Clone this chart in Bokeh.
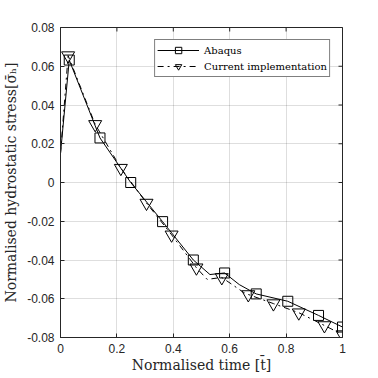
import math
from bokeh.plotting import figure
from bokeh.models import Range1d, FixedTicker, Legend, LegendItem
from bokeh.embed import file_html
from bokeh.resources import INLINE

# Abaqus: smooth line samples and marker positions
abaqus_line_t = [0.0, 0.031, 0.14, 0.249, 0.362, 0.471, 0.53, 0.582, 0.634, 0.694, 0.806, 0.915, 1.0]
abaqus_line_s = [0.015, 0.0632, 0.023, 0.0, -0.0202, -0.0400, -0.0475, -0.0467, -0.0527, -0.0575, -0.0613, -0.0686, -0.0746]
abaqus_mark_t = [0.031, 0.14, 0.249, 0.362, 0.471, 0.582, 0.694, 0.806, 0.915, 1.0]
abaqus_mark_s = [0.0632, 0.023, 0.0, -0.0202, -0.0400, -0.0467, -0.0575, -0.0613, -0.0686, -0.0746]

# Current implementation
current_line_t = [0.0, 0.027, 0.123, 0.214, 0.305, 0.394, 0.482, 0.52, 0.572, 0.65, 0.666, 0.755, 0.845, 0.936, 1.0]
current_line_s = [0.015, 0.0655, 0.030, 0.0074, -0.0106, -0.027, -0.044, -0.050, -0.0490, -0.0568, -0.0578, -0.0625, -0.0672, -0.0738, -0.0785]
current_mark_t = [0.027, 0.123, 0.214, 0.305, 0.394, 0.482, 0.572, 0.666, 0.755, 0.845, 0.936, 1.0]
current_mark_s = [0.0655, 0.030, 0.0074, -0.0106, -0.027, -0.044, -0.0490, -0.0578, -0.0625, -0.0672, -0.0738, -0.0785]

x_ticks = [0, 0.2, 0.4, 0.6, 0.8, 1.0]
x_tick_labels = ["0", "0.2", "0.4", "0.6", "0.8", "1"]
y_ticks = [-0.08, -0.06, -0.04, -0.02, 0, 0.02, 0.04, 0.06, 0.08]
y_tick_labels = ["-0.08", "-0.06", "-0.04", "-0.02", "0", "0.02", "0.04", "0.06", "0.08"]

AX = "#262626"

p = figure(width=378, height=378, output_backend="svg", toolbar_location=None,
           x_range=Range1d(0, 1), y_range=Range1d(-0.08, 0.08),
           min_border_left=58, min_border_right=36, min_border_top=27, min_border_bottom=41)
p.background_fill_color = "white"
p.border_fill_color = "white"
p.outline_line_color = AX
p.outline_line_width = 1

for ax in [p.xaxis[0], p.yaxis[0]]:
    ax.axis_line_color = AX
    ax.major_tick_in = 4
    ax.major_tick_out = 0
    ax.minor_tick_line_color = None
    ax.major_tick_line_color = AX
    ax.major_label_text_font = "Liberation Sans"
    ax.major_label_text_font_size = "12px"
    ax.major_label_text_color = AX
    ax.axis_label_text_font = "DejaVu Serif"
    ax.axis_label_text_font_style = "normal"
    ax.axis_label_text_font_size = "14px"
    ax.axis_label_text_color = AX

p.xaxis[0].ticker = FixedTicker(ticks=x_ticks)
p.xaxis[0].major_label_overrides = {t: l for t, l in zip(x_ticks, x_tick_labels)}
p.yaxis[0].ticker = FixedTicker(ticks=y_ticks)
p.yaxis[0].major_label_overrides = {t: l for t, l in zip(y_ticks, y_tick_labels)}
p.xaxis[0].major_label_standoff = 6
p.yaxis[0].major_label_standoff = 6
p.xaxis[0].axis_label = "Normalised time [t\u0304]"
p.yaxis[0].axis_label = "Normalised hydrostatic stress[\u03c3\u0304\u2095]"
p.xaxis[0].axis_label_standoff = 1
p.yaxis[0].axis_label_standoff = 5

p.grid.grid_line_color = "#000000"
p.grid.grid_line_alpha = 0.13
p.xgrid.ticker = FixedTicker(ticks=x_ticks)
p.ygrid.ticker = FixedTicker(ticks=y_ticks)

# inward ticks on the top and right edges of the box (half of each dash is clipped)
p.scatter(x_ticks, [0.08] * len(x_ticks), marker="dash", size=8, angle=math.pi / 2,
          line_color=AX, line_width=1)
p.scatter([1.0] * len(y_ticks), y_ticks, marker="dash", size=8,
          line_color=AX, line_width=1)

l1 = p.line(abaqus_line_t, abaqus_line_s, line_color="black", line_width=1)
m1 = p.scatter(abaqus_mark_t, abaqus_mark_s, marker="square", size=10,
               fill_color=None, line_color="black", line_width=1)
l2 = p.line(current_line_t, current_line_s, line_color="black", line_width=1, line_dash="dashdot")
m2 = p.scatter(current_mark_t, current_mark_s, marker="inverted_triangle", size=13,
               fill_color=None, line_color="black", line_width=1)

legend = Legend(items=[LegendItem(label="Abaqus", renderers=[l1, m1]),
                       LegendItem(label="Current implementation", renderers=[l2, m2])],
                location="top_right")
legend.label_text_font = "DejaVu Serif"
legend.label_text_font_size = "10px"
legend.label_text_color = "black"
legend.border_line_color = "black"
legend.border_line_width = 1
legend.background_fill_alpha = 1
legend.glyph_width = 42
legend.glyph_height = 16
legend.label_height = 16
legend.label_standoff = 5
legend.padding = 2
legend.spacing = 0
legend.margin = 12
p.add_layout(legend)

open("out.html", "w").write(file_html(p, INLINE))
